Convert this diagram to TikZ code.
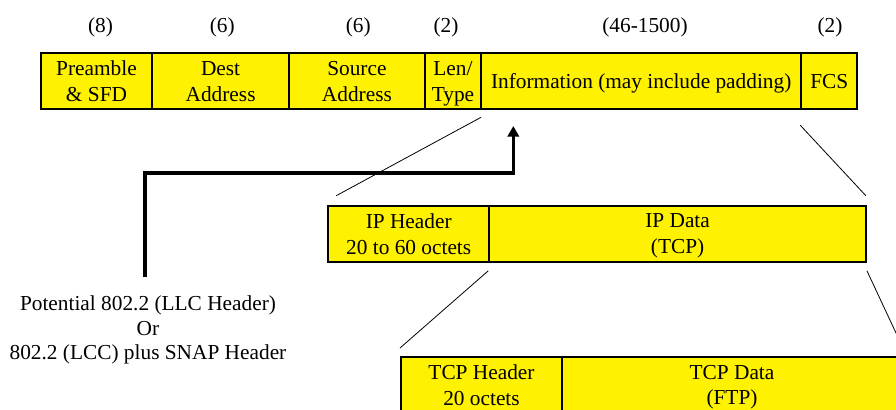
\documentclass[tikz,border=0pt]{standalone}
\usepackage{fontspec}
\setmainfont{Liberation Serif}
\usetikzlibrary{arrows.meta,positioning}

\begin{document}
\begin{tikzpicture}[x=0.75pt,y=-0.75pt,
	field/.style={rectangle,draw,fill=yellow,line width=1.5pt,minimum height=42pt,inner sep=0pt,align=center,text depth=-4pt,font=\rmfamily\fontsize{16}{19.2}\selectfont},
	bytes/.style={font=\rmfamily\fontsize{16}{18.4}\selectfont},
	zoomline/.style={line width=0.6pt},
	bigarrow/.style={line width=2.6pt,-{Triangle[length=8pt,width=8.5pt]}}]
		\path[use as bounding box,clip] (0,0) rectangle (896,410);

		% ethernet frame
		\node[field,minimum width=84pt] (pre) at (96.5,81.3) {Preamble\\\& SFD};
		\node[field,minimum width=102.2pt] (dst) at (220.6,81.3) {Dest\\Address};
		\node[field,minimum width=102.2pt] (src) at (356.9,81.3) {Source\\Address};
		\node[field,minimum width=42pt] (len) at (453,81.3) {Len/\\Type};
		\node[field,minimum width=240.2pt] (info) at (641.2,81.3) {Information (may include padding)};
		\node[field,minimum width=42pt] (fcs) at (829.3,81.3) {FCS};

		\node[bytes] (cpre) at (100.5,27) {(8)};
		\node[bytes] (cdst) at (222.3,27) {(6)};
		\node[bytes] (csrc) at (358.3,27) {(6)};
		\node[bytes] (clen) at (446,27) {(2)};
		\node[bytes] (cinfo) at (645,27) {(46-1500)};
		\node[bytes] (cfcs) at (830,27) {(2)};

		% IP packet
		\node[field,minimum width=121pt] (ipH) at (408.7,233.8) {IP Header\\20 to 60 octets};
		\node[field,minimum width=282.5pt] (ipD) at (677.6,233.8) {IP Data\\(TCP)};

		% TCP segment
		\node[field,minimum width=120.75pt] (tcpH) at (481.5,385) {TCP Header\\20 octets};
		\node[field,minimum width=255pt] (tcpD) at (732,385) {TCP Data\\(FTP)};

		\draw[zoomline] ([shift={(1,7)}]info.south west) -- ([shift={(9,-9)}]ipH.north west);
		\draw[zoomline] ([shift={(0,15)}]fcs.south west) -- ([shift={(-1,-9)}]ipD.north east);
		\draw[zoomline] ([shift={(0,8)}]ipD.south west) -- ([shift={(0,-8)}]tcpH.north west);
		\draw[zoomline] ([shift={(0,8)}]ipD.south east) -- ([shift={(0,-8)}]tcpD.north east);

		% LLC / SNAP header
		\node[bytes,align=center] (llc) at (148,330) {Potential 802.2 (LLC Header)\\Or\\802.2 (LCC) plus SNAP Header};
		\coordinate (tail) at (145,277);
		\coordinate (head) at (513.3,126);
		\draw[bigarrow] (tail) -- ++(0,-104) -| (head);
	\end{tikzpicture}
\end{document}
